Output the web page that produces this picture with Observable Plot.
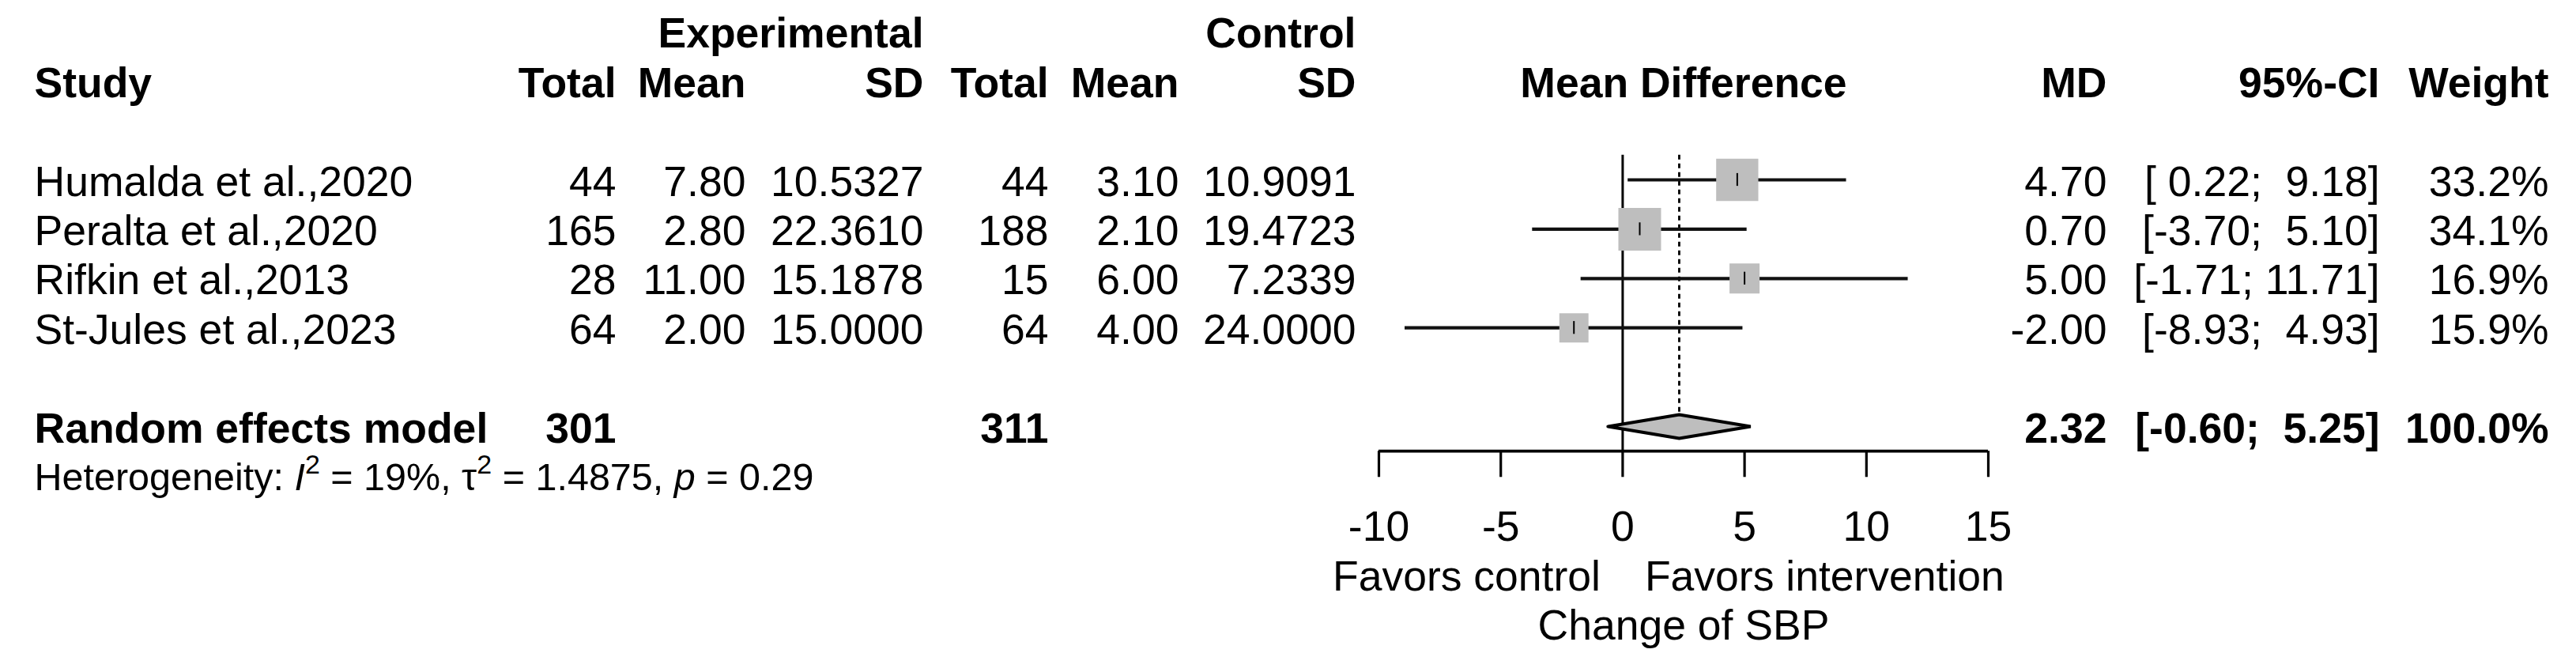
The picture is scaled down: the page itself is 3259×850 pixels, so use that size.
<!DOCTYPE html>
<html>
<head>
<meta charset="utf-8">
<script src="https://cdn.jsdelivr.net/npm/d3@7"></script>
<script src="https://cdn.jsdelivr.net/npm/@observablehq/plot@0.6"></script>
<style>
  html, body { margin: 0; padding: 0; background: #fff; }
  #chart svg text { white-space: pre; }
</style>
</head>
<body>
<div id="chart"></div>
<script>
// ---------------- data ----------------
const studies    = ["Humalda et al.,2020", "Peralta et al.,2020", "Rifkin et al.,2013", "St-Jules et al.,2023"];
const expTotal   = [44, 165, 28, 64];
const expMean    = [7.80, 2.80, 11.00, 2.00];
const expSD      = [10.5327, 22.3610, 15.1878, 15.0000];
const ctrlTotal  = [44, 188, 15, 64];
const ctrlMean   = [3.10, 2.10, 6.00, 4.00];
const ctrlSD     = [10.9091, 19.4723, 7.2339, 24.0000];
const md         = [4.70, 0.70, 5.00, -2.00];
const ciLower    = [0.22, -3.70, -1.71, -8.93];
const ciUpper    = [9.18, 5.10, 11.71, 4.93];
const weight     = [33.2, 34.1, 16.9, 15.9];

const pooledLabel = "Random effects model";
const pooledExpTotal = 301;
const pooledCtrlTotal = 311;
const pooledMD = 2.32;
const pooledLower = -0.60;
const pooledUpper = 5.25;
const pooledWeight = 100.0;

const hetI2 = 19;
const hetTau2 = 1.4875;
const hetP = 0.29;

const ticks = [-10, -5, 0, 5, 10, 15];
const groupHeaders = ["Experimental", "Control"];
const colHeaders = ["Study", "Total", "Mean", "SD", "Total", "Mean", "SD", "Mean Difference", "MD", "95%-CI", "Weight"];
const favorLabels = ["Favors control", "Favors intervention"];
const xLabel = "Change of SBP";

// ---------------- layout ----------------
const W = 3259, H = 850;
const FS = 53.5, FS_HET = 48.5;
const FONT = "'Liberation Sans', Arial, Helvetica, sans-serif";
const axisPx = {first: 1744, last: 2515};      // pixel positions of first / last tick
const rowPx = {first: 227, step: 62.4};        // centre of first study row, row step
const col = {study: 43, expTotal: 779, expMean: 943, expSD: 1168,
             ctrlTotal: 1326, ctrlMean: 1491, ctrlSD: 1715,
             md: 2665, ci: 3010, weight: 3224};

const k = (axisPx.last - axisPx.first) / (ticks[ticks.length - 1] - ticks[0]);
const xDomain = [ticks[0] - axisPx.first / k, ticks[ticks.length - 1] + (W - axisPx.last) / k];
const yDomain = [-rowPx.first / rowPx.step, (H - rowPx.first) / rowPx.step];

const groupRow = -3, headRow = -2;
const pooledRow = studies.length + 1;
const hetRow = pooledRow + 1;
const axisRow = pooledRow + 0.5;
const tickLen = 0.53;
const tickLabelRow = pooledRow + 2;
const favorRow = pooledRow + 3;
const xLabelRow = pooledRow + 4;
const diamondH = 0.24;
const refTop = -0.5;

// ---------------- derived tables ----------------
const fmtCI = (lo, hi) => {
  const l = lo.toFixed(2), h = hi.toFixed(2);
  const w = 5;
  return "[" + l.padStart(w) + "; " + h.padStart(w) + "]";
};
const rows = studies.map((s, i) => ({
  row: i, study: s,
  expTotal: String(expTotal[i]), expMean: expMean[i].toFixed(2), expSD: expSD[i].toFixed(4),
  ctrlTotal: String(ctrlTotal[i]), ctrlMean: ctrlMean[i].toFixed(2), ctrlSD: ctrlSD[i].toFixed(4),
  md: md[i], lower: ciLower[i], upper: ciUpper[i], weight: weight[i],
  mdText: md[i].toFixed(2), ciText: fmtCI(ciLower[i], ciUpper[i]), wText: weight[i].toFixed(1) + "%"
}));
const pooled = [{
  row: pooledRow, label: pooledLabel,
  expTotal: String(pooledExpTotal), ctrlTotal: String(pooledCtrlTotal),
  mdText: pooledMD.toFixed(2), ciText: fmtCI(pooledLower, pooledUpper), wText: pooledWeight.toFixed(1) + "%"
}];
const diamond = [
  {x: pooledLower, y: pooledRow},
  {x: pooledMD, y: pooledRow - diamondH},
  {x: pooledUpper, y: pooledRow},
  {x: pooledMD, y: pooledRow + diamondH},
  {x: pooledLower, y: pooledRow}
];
const heads = [
  {row: headRow, t: colHeaders[0], c: "study", a: "start"},
  {row: headRow, t: colHeaders[1], c: "expTotal", a: "end"},
  {row: headRow, t: colHeaders[2], c: "expMean", a: "end"},
  {row: headRow, t: colHeaders[3], c: "expSD", a: "end"},
  {row: headRow, t: colHeaders[4], c: "ctrlTotal", a: "end"},
  {row: headRow, t: colHeaders[5], c: "ctrlMean", a: "end"},
  {row: headRow, t: colHeaders[6], c: "ctrlSD", a: "end"},
  {row: headRow, t: colHeaders[8], c: "md", a: "end"},
  {row: headRow, t: colHeaders[9], c: "ci", a: "end"},
  {row: headRow, t: colHeaders[10], c: "weight", a: "end"},
  {row: groupRow, t: groupHeaders[0], c: "expSD", a: "end"},
  {row: groupRow, t: groupHeaders[1], c: "ctrlSD", a: "end"}
];

// text column helper: anchored at a pixel column of the frame
const colText = (data, text, c, anchor, extra = {}) =>
  Plot.text(data, {frameAnchor: "left", dx: col[c], y: "row", text, textAnchor: anchor,
                   fontSize: FS, dy: 3, fill: "black", ...extra});

const marks = [];
for (const h of heads) marks.push(colText([h], "t", h.c, h.a, {fontWeight: "bold"}));
marks.push(Plot.text([colHeaders[7]], {x: () => (ticks[0] + ticks[ticks.length - 1]) / 2, y: () => headRow,
  text: d => d, fontSize: FS, fontWeight: "bold", dy: 3, fill: "black"}));

// study rows
marks.push(colText(rows, "study", "study", "start"));
marks.push(colText(rows, "expTotal", "expTotal", "end"));
marks.push(colText(rows, "expMean", "expMean", "end"));
marks.push(colText(rows, "expSD", "expSD", "end"));
marks.push(colText(rows, "ctrlTotal", "ctrlTotal", "end"));
marks.push(colText(rows, "ctrlMean", "ctrlMean", "end"));
marks.push(colText(rows, "ctrlSD", "ctrlSD", "end"));
marks.push(colText(rows, "mdText", "md", "end"));
marks.push(colText(rows, "ciText", "ci", "end"));
marks.push(colText(rows, "wText", "weight", "end"));

// pooled row
const B = {fontWeight: "bold"};
marks.push(colText(pooled, "label", "study", "start", B));
marks.push(colText(pooled, "expTotal", "expTotal", "end", B));
marks.push(colText(pooled, "ctrlTotal", "ctrlTotal", "end", B));
marks.push(colText(pooled, "mdText", "md", "end", B));
marks.push(colText(pooled, "ciText", "ci", "end", B));
marks.push(colText(pooled, "wText", "weight", "end", B));

// heterogeneity (rich text filled in afterwards)
const HET_KEY = "Heterogeneity";
marks.push(colText([{row: hetRow, t: HET_KEY}], "t", "study", "start", {fontSize: FS_HET}));

// forest
marks.push(Plot.ruleX([0], {x: d => d, y1: () => refTop, y2: () => axisRow, stroke: "black", strokeWidth: 3}));
marks.push(Plot.ruleX([pooledMD], {x: d => d, y1: () => refTop, y2: () => pooledRow - diamondH,
  stroke: "black", strokeWidth: 2.8, strokeDasharray: "6,5"}));
marks.push(Plot.ruleY(rows, {y: "row", x1: "lower", x2: "upper", stroke: "#111", strokeWidth: 4.2}));
marks.push(Plot.dot(rows, {x: "md", y: "row", r: "weight", symbol: "square", fill: "#bebebe", stroke: null}));
marks.push(Plot.ruleX(rows, {x: "md", y1: d => d.row - 0.13, y2: d => d.row + 0.13, stroke: "black", strokeWidth: 2}));
marks.push(Plot.line(diamond, {x: "x", y: "y", fill: "#bebebe", stroke: "black", strokeWidth: 4, strokeLinejoin: "miter"}));

// axis
marks.push(Plot.ruleY([axisRow], {y: d => d, x1: () => ticks[0], x2: () => ticks[ticks.length - 1],
  stroke: "black", strokeWidth: 3.8}));
marks.push(Plot.ruleX(ticks, {x: d => d, y1: () => axisRow, y2: () => axisRow + tickLen, stroke: "black", strokeWidth: 3.2}));
marks.push(Plot.text(ticks, {x: d => d, y: () => tickLabelRow, text: d => String(d), fontSize: FS, dy: 3, fill: "black"}));
marks.push(Plot.text([favorLabels[0]], {x: () => 0, y: () => favorRow, text: d => d, fontSize: FS,
  textAnchor: "end", dx: -28, dy: 3, fill: "black"}));
marks.push(Plot.text([favorLabels[1]], {x: () => 0, y: () => favorRow, text: d => d, fontSize: FS,
  textAnchor: "start", dx: 28, dy: 3, fill: "black"}));
marks.push(Plot.text([xLabel], {x: () => (ticks[0] + ticks[ticks.length - 1]) / 2, y: () => xLabelRow,
  text: d => d, fontSize: FS, dy: 3, fill: "black"}));

const chart = Plot.plot({
  width: W, height: H,
  marginTop: 0, marginRight: 0, marginBottom: 0, marginLeft: 0,
  x: {type: "linear", domain: xDomain, range: [0, W], axis: null},
  y: {type: "linear", domain: yDomain, range: [0, H], axis: null},
  r: {type: "sqrt", domain: [0, 100], range: [0, 9.25 * 10 / Math.sqrt(Math.PI)]},
  style: {fontFamily: FONT, background: "white", color: "black", overflow: "visible"},
  marks
});
document.getElementById("chart").appendChild(chart);

// rich heterogeneity text (italic I and p, superscript 2)
const het = Array.from(chart.querySelectorAll("text")).find(t => t.textContent.trim() === HET_KEY);
if (het) {
  while (het.firstChild) het.removeChild(het.firstChild);
  const ns = "http://www.w3.org/2000/svg";
  const parts = [
    ["Heterogeneity: ", {}],
    ["I", {"font-style": "italic"}],
    ["2", {sup: true}],
    [` = ${hetI2}%, τ`, {}],
    ["2", {sup: true}],
    [` = ${hetTau2.toFixed(4)}, `, {}],
    ["p", {"font-style": "italic"}],
    [` = ${hetP}`, {}]
  ];
  let raised = false;
  for (const [txt, attrs] of parts) {
    const ts = document.createElementNS(ns, "tspan");
    ts.textContent = txt;
    if (attrs.sup) {
      ts.setAttribute("font-size", Math.round(FS_HET * 0.7));
      ts.setAttribute("dy", -21);
      raised = true;
    } else {
      if (raised) { ts.setAttribute("dy", 21); raised = false; }
      for (const [a, v] of Object.entries(attrs)) ts.setAttribute(a, v);
    }
    het.appendChild(ts);
  }
}
</script>
</body>
</html>
